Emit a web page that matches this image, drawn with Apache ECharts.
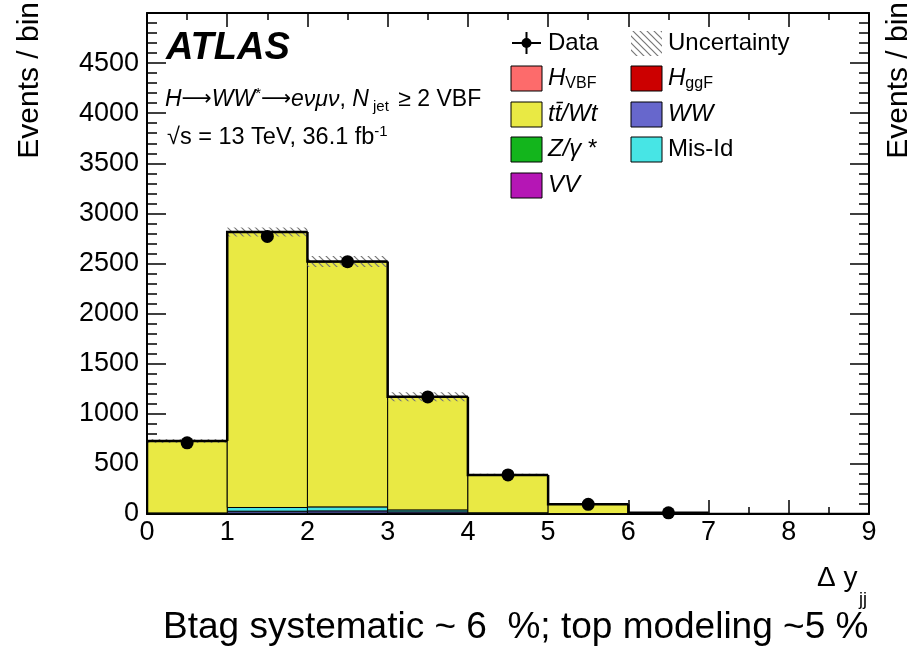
<!doctype html>
<html lang="en">
<head>
    <meta charset="utf-8">
    <title>Delta y_jj</title>
    <script type="text/javascript" src="https://cdn.jsdelivr.net/npm/echarts@6/dist/echarts.min.js"></script>
    <style>
        html, body { margin: 0; padding: 0; background: #fff; }
        #main { width: 911px; height: 649px; }
    </style>
</head>
<body>
<div id="main"></div>
<script type="text/javascript">
    // bins of Delta y_jj
    var binLo = [0, 1, 2, 3, 4, 5, 6, 7, 8];
    var binHi = [1, 2, 3, 4, 5, 6, 7, 8, 9];

    // backgrounds, stacked from the bottom up
    var vv     = [1, 3, 3, 2, 1, 0, 0, 0, 0];
    var zjets  = [2, 5, 6, 4, 2, 1, 0, 0, 0];
    var ww     = [5, 20, 22, 15, 5, 2, 0, 0, 0];
    var misId  = [3, 37, 40, 20, 4, 1, 0, 0, 0];
    var ttWt   = [717, 2747, 2446, 1127, 378, 93, 12, 1, 0];
    var hggf   = [0, 2, 2, 1, 0, 0, 0, 0, 0];
    var hvbf   = [0, 1, 1, 1, 0, 0, 0, 0, 0];

    var dataObs = [710, 2770, 2518, 1168, 390, 97, 12, 0, 0];
    var uncert  = [18, 45, 55, 45, 12, 6, 2, 0, 0];

    var yTicks = [0, 500, 1000, 1500, 2000, 2500, 3000, 3500, 4000, 4500];

    var FONT = '"Liberation Sans", Arial, Helvetica, sans-serif';

    var stack = [
        {name: 'VV', vals: vv, color: '#b516b5'},
        {name: 'Z/γ*', vals: zjets, color: '#13b51c'},
        {name: 'WW', vals: ww, color: '#6767cc'},
        {name: 'Mis-Id', vals: misId, color: '#47e5e5'},
        {name: 'tt/Wt', vals: ttWt, color: '#e9e944'},
        {name: 'HggF', vals: hggf, color: '#cc0000'},
        {name: 'HVBF', vals: hvbf, color: '#fd6b6b'}
    ];

    function rectRender(color) {
        return function (params, api) {
            var p0 = api.coord([api.value(0), api.value(3)]);
            var p1 = api.coord([api.value(1), api.value(2)]);
            return {
                type: 'rect',
                shape: {x: p0[0], y: p0[1], width: p1[0] - p0[0], height: p1[1] - p0[1]},
                style: {fill: color, stroke: '#000', lineWidth: 1}
            };
        };
    }

    // hatch pattern for the uncertainty band
    var hatch = document.createElement('canvas');
    hatch.width = 7;
    hatch.height = 7;
    var hc = hatch.getContext('2d');
    hc.strokeStyle = '#777';
    hc.lineWidth = 1.2;
    hc.beginPath();
    hc.moveTo(-1, -1); hc.lineTo(8, 8);
    hc.moveTo(-1, 6); hc.lineTo(1, 8);
    hc.moveTo(6, -1); hc.lineTo(8, 1);
    hc.stroke();
    var hatchFill = {image: hatch, repeat: 'repeat'};

    var series = [];
    var base = binLo.map(function () { return 0; });
    stack.forEach(function (s) {
        var d = [];
        for (var i = 0; i < binLo.length; i++) {
            if (s.vals[i] > 0) d.push([binLo[i], binHi[i], base[i], base[i] + s.vals[i]]);
            base[i] += s.vals[i];
        }
        series.push({
            type: 'custom', name: s.name, data: d, clip: true, z: 2,
            encode: {x: [0, 1], y: [2, 3]},
            renderItem: rectRender(s.color)
        });
    });

    // uncertainty band
    var band = [];
    for (var i = 0; i < binLo.length; i++) {
        if (uncert[i] > 0) band.push([binLo[i], binHi[i], base[i] - uncert[i], base[i] + uncert[i]]);
    }
    series.push({
        type: 'custom', data: band, z: 3, clip: true,
        encode: {x: [0, 1], y: [2, 3]},
        renderItem: function (params, api) {
            var p0 = api.coord([api.value(0), api.value(3)]);
            var p1 = api.coord([api.value(1), api.value(2)]);
            return {
                type: 'rect',
                shape: {x: p0[0], y: p0[1], width: p1[0] - p0[0], height: p1[1] - p0[1]},
                style: {fill: hatchFill, stroke: null}
            };
        }
    });

    // step outline of the total: [lo, hi, total, previous total]
    var outline = binLo.map(function (x, i) { return [x, binHi[i], base[i], i > 0 ? base[i - 1] : 0]; });
    series.push({
        type: 'custom', data: outline, z: 4, clip: true,
        encode: {x: [0, 1], y: [2, 3]},
        renderItem: function (params, api) {
            var a = api.coord([api.value(0), api.value(3)]);
            var b = api.coord([api.value(0), api.value(2)]);
            var c = api.coord([api.value(1), api.value(2)]);
            return {
                type: 'polyline',
                shape: {points: [a, b, c]},
                style: {stroke: '#000', lineWidth: 2.5, fill: null}
            };
        }
    });

    // data points with stat errors
    var pts = [], errs = [];
    for (var j = 0; j < binLo.length; j++) {
        if (dataObs[j] > 0) {
            var xc = (binLo[j] + binHi[j]) / 2;
            pts.push([xc, dataObs[j]]);
            errs.push([xc, dataObs[j] - Math.sqrt(dataObs[j]), dataObs[j] + Math.sqrt(dataObs[j])]);
        }
    }
    series.push({
        type: 'custom', data: errs, z: 5,
        encode: {x: 0, y: [1, 2]},
        renderItem: function (params, api) {
            var a = api.coord([api.value(0), api.value(1)]);
            var b = api.coord([api.value(0), api.value(2)]);
            return {type: 'line', shape: {x1: a[0], y1: a[1], x2: b[0], y2: b[1]}, style: {stroke: '#000', lineWidth: 2}};
        }
    });
    series.push({
        type: 'scatter', data: pts, symbol: 'circle', symbolSize: 13, z: 6,
        itemStyle: {color: '#000', opacity: 1}
    });

    // ---------- text and legend ----------
    var txtBase = {fill: '#000', fontFamily: FONT};
    var graphics = [];

    function txt(x, y, style, extra) {
        var o = {type: 'text', x: x, y: y, z: 100, style: Object.assign({}, txtBase, style)};
        return Object.assign(o, extra || {});
    }

    graphics.push(txt(30, 2, {text: 'Events / bin', fontSize: 30, align: 'right', verticalAlign: 'middle'}, {rotation: Math.PI / 2}));
    graphics.push(txt(899, 2, {text: 'Events / bin', fontSize: 30, align: 'right', verticalAlign: 'middle'}, {rotation: Math.PI / 2}));

    graphics.push(txt(817, 578, {text: 'Δ y', fontSize: 28, verticalAlign: 'middle'}));
    graphics.push(txt(859, 600, {text: 'jj', fontSize: 18, verticalAlign: 'middle'}));

    graphics.push(txt(163, 628, {text: 'Btag systematic ~ 6  %; top modeling ~5 %', fontSize: 37, verticalAlign: 'middle'}));

    graphics.push(txt(166, 49, {text: 'ATLAS', fontSize: 38, fontWeight: 'bold', fontStyle: 'italic', verticalAlign: 'middle'}));

    graphics.push(txt(165, 100, {
        text: '{i|H}{a|⟶}{i|WW}{sup|*}{a|⟶}{i|eνμν}{n|, }{i|N}{sub| jet}{n| ≥ 2 VBF}',
        verticalAlign: 'middle',
        rich: {
            n: {fontSize: 23, fontFamily: FONT, lineHeight: 28},
            a: {fontSize: 21, fontFamily: '"DejaVu Sans", sans-serif', lineHeight: 28},
            i: {fontSize: 23, fontFamily: FONT, fontStyle: 'italic', lineHeight: 28},
            sup: {fontSize: 15, fontFamily: FONT, verticalAlign: 'top', lineHeight: 15},
            sub: {fontSize: 15, fontFamily: FONT, verticalAlign: 'bottom', lineHeight: 17, padding: [0, 3, 0, 0]}
        }
    }));
    graphics.push(txt(167, 138, {
        text: '{n|√s = 13 TeV, 36.1 fb}{sup|-1}',
        verticalAlign: 'middle',
        rich: {
            n: {fontSize: 23.5, fontFamily: FONT, lineHeight: 28},
            sup: {fontSize: 15, fontFamily: FONT, verticalAlign: 'top', lineHeight: 15}
        }
    }));

    // legend
    var legCol1 = [
        {label: 'Data', kind: 'data', y: 43},
        {label: '{i|H}{s|VBF}', color: '#fd6b6b', y: 78},
        {label: '{i|tt̄/Wt}', color: '#e9e944', y: 114},
        {label: '{i|Z/γ}{n| *}', color: '#13b51c', y: 149},
        {label: '{i|VV}', color: '#b516b5', y: 185}
    ];
    var legCol2 = [
        {label: 'Uncertainty', kind: 'hatch', y: 43},
        {label: '{i|H}{s|ggF}', color: '#cc0000', y: 78},
        {label: '{i|WW}', color: '#6767cc', y: 114},
        {label: 'Mis-Id', color: '#47e5e5', y: 149}
    ];
    var legRich = {
        n: {fontSize: 24, fontFamily: FONT, lineHeight: 28},
        i: {fontSize: 24, fontFamily: FONT, fontStyle: 'italic', lineHeight: 28},
        s: {fontSize: 16, fontFamily: FONT, verticalAlign: 'bottom', lineHeight: 16}
    };

    function addLegend(items, bx, tx) {
        items.forEach(function (it) {
            if (it.kind === 'data') {
                graphics.push({type: 'line', z: 100, shape: {x1: bx + 1, y1: it.y, x2: bx + 30, y2: it.y}, style: {stroke: '#000', lineWidth: 2}});
                graphics.push({type: 'line', z: 100, shape: {x1: bx + 15.5, y1: it.y - 11, x2: bx + 15.5, y2: it.y + 11}, style: {stroke: '#000', lineWidth: 2}});
                graphics.push({type: 'circle', z: 101, shape: {cx: bx + 15.5, cy: it.y, r: 5}, style: {fill: '#000'}});
            } else if (it.kind === 'hatch') {
                graphics.push({type: 'rect', z: 100, shape: {x: bx, y: it.y - 12, width: 31, height: 25}, style: {fill: hatchFill, stroke: null}});
            } else {
                graphics.push({type: 'rect', z: 100, shape: {x: bx, y: it.y - 12, width: 31, height: 25}, style: {fill: it.color, stroke: '#000', lineWidth: 1}});
            }
            graphics.push(txt(tx, it.y, {text: it.label, fontSize: 24, verticalAlign: 'middle', rich: legRich}));
        });
    }
    addLegend(legCol1, 511, 548);
    addLegend(legCol2, 631, 668);

    var axisLineStyle = {color: '#000', width: 2};
    var tickStyle = {color: '#000', width: 1.5};

    var myChart = echarts.init(document.getElementById('main'), null, {renderer: 'canvas'});
    var option = {
        animation: false,
        backgroundColor: '#fff',
        grid: {left: 147, right: 42, top: 13, bottom: 135, containLabel: false},
        xAxis: [{
            type: 'value', min: 0, max: 9, interval: 1, position: 'bottom',
            axisLine: {show: true, onZero: false, lineStyle: axisLineStyle},
            axisTick: {show: true, inside: true, length: 14, lineStyle: tickStyle},
            minorTick: {show: true, splitNumber: 2, length: 7, lineStyle: tickStyle},
            splitLine: {show: false},
            axisLabel: {fontSize: 27, color: '#000', fontFamily: FONT, margin: 5}
        }, {
            type: 'value', min: 0, max: 9, interval: 1, position: 'top',
            axisLine: {show: true, onZero: false, lineStyle: axisLineStyle},
            axisTick: {show: true, inside: true, length: 14, lineStyle: tickStyle},
            minorTick: {show: true, splitNumber: 2, length: 7, lineStyle: tickStyle},
            splitLine: {show: false},
            axisLabel: {show: false}
        }],
        yAxis: [{
            type: 'value', min: 0, max: 5000, interval: 500, position: 'left',
            axisLine: {show: true, onZero: false, lineStyle: axisLineStyle},
            axisTick: {show: true, inside: true, length: 19, lineStyle: tickStyle},
            minorTick: {show: true, splitNumber: 5, length: 10, lineStyle: tickStyle},
            splitLine: {show: false},
            axisLabel: {
                fontSize: 27, color: '#000', fontFamily: FONT, margin: 8,
                formatter: function (v) { return yTicks.indexOf(v) >= 0 ? String(v) : ''; }
            }
        }, {
            type: 'value', min: 0, max: 5000, interval: 500, position: 'right',
            axisLine: {show: true, onZero: false, lineStyle: axisLineStyle},
            axisTick: {show: true, inside: true, length: 19, lineStyle: tickStyle},
            minorTick: {show: true, splitNumber: 5, length: 10, lineStyle: tickStyle},
            splitLine: {show: false},
            axisLabel: {show: false}
        }],
        series: series,
        graphic: graphics
    };
    option && myChart.setOption(option);
</script>
</body>
</html>
